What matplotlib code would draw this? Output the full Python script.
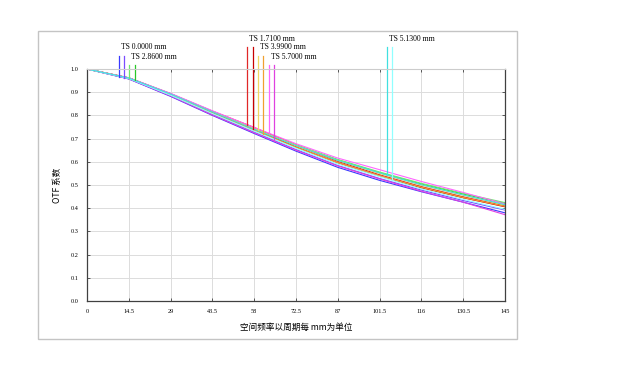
import numpy as np
import matplotlib
matplotlib.use("Agg")
import matplotlib.pyplot as plt
from matplotlib.patches import Rectangle

# spatial frequency, cycles per mm
freqs = [0, 14.5, 29, 43.5, 58, 72.5, 87, 101.5, 116, 130.5, 145]

fields = ["0.0000", "2.8600", "1.7100", "3.9900", "5.7000", "5.1300"]

# tangential / sagittal MTF per field
t_0000 = [1.0, 0.957, 0.882, 0.800, 0.722, 0.646, 0.576, 0.520, 0.471, 0.426, 0.380]
s_0000 = [1.0, 0.958, 0.885, 0.804, 0.728, 0.653, 0.584, 0.528, 0.478, 0.433, 0.392]
t_2860 = [1.0, 0.962, 0.894, 0.818, 0.745, 0.674, 0.610, 0.556, 0.507, 0.464, 0.424]
s_2860 = [1.0, 0.961, 0.893, 0.816, 0.743, 0.672, 0.608, 0.553, 0.504, 0.461, 0.420]
t_1710 = [1.0, 0.962, 0.893, 0.818, 0.748, 0.672, 0.602, 0.544, 0.493, 0.449, 0.410]
s_1710 = [1.0, 0.961, 0.890, 0.812, 0.740, 0.664, 0.596, 0.539, 0.488, 0.445, 0.406]
t_3990 = [1.0, 0.961, 0.892, 0.816, 0.743, 0.672, 0.606, 0.550, 0.500, 0.456, 0.414]
s_3990 = [1.0, 0.960, 0.889, 0.810, 0.736, 0.663, 0.596, 0.540, 0.490, 0.446, 0.408]
t_5700 = [1.0, 0.962, 0.895, 0.820, 0.748, 0.678, 0.616, 0.566, 0.515, 0.468, 0.418]
s_5700 = [1.0, 0.958, 0.884, 0.802, 0.725, 0.650, 0.582, 0.526, 0.473, 0.426, 0.372]
t_5130 = [1.0, 0.961, 0.892, 0.815, 0.740, 0.670, 0.606, 0.552, 0.501, 0.457, 0.415]
s_5130 = [1.0, 0.959, 0.887, 0.808, 0.732, 0.658, 0.590, 0.536, 0.483, 0.438, 0.395]

tan = [t_0000, t_2860, t_1710, t_3990, t_5700, t_5130]
sag = [s_0000, s_2860, s_1710, s_3990, s_5700, s_5130]

# legend marker positions (frequency of the T and S ticks)
mark_t = [11.0, 14.7, 55.6, 59.2, 63.0, 103.9]
mark_s = [12.9, 16.75, 57.5, 61.2, 64.9, 105.8]
mark_top = [1.057, 1.017, 1.096, 1.057, 1.017, 1.096]
label_y = [1.093, 1.052, 1.129, 1.093, 1.052, 1.129]

col_t = ["#3a3aff", "#6ee86e", "#e02828", "#f0d860", "#ff66ff", "#40e0e0"]
col_s = ["#7a4cff", "#28c828", "#c80000", "#f0a030", "#e040e0", "#90ffff"]

xticks = [0, 14.5, 29, 43.5, 58, 72.5, 87, 101.5, 116, 130.5, 145]
xticklabels = ["0", "14.5", "29", "43.5", "58", "72.5", "87", "101.5", "116", "130.5", "145"]
yticks = [0.0, 0.1, 0.2, 0.3, 0.4, 0.5, 0.6, 0.7, 0.8, 0.9, 1.0]

fig = plt.figure(figsize=(6.39, 3.82), dpi=100)
fig.patches.append(Rectangle((38 / 639, 43 / 382), 479 / 639, 308 / 382,
                             transform=fig.transFigure, fill=False,
                             edgecolor="#c4c4c4", linewidth=1.0))
ax = fig.add_axes([87 / 639, 81 / 382, 418 / 639, 232 / 382])

for i in range(len(fields)):
    ax.plot(freqs, sag[i], color=col_s[i], lw=0.8)
    ax.plot(freqs, tan[i], color=col_t[i], lw=0.8)

for i in range(len(fields)):
    yb_t = np.interp(mark_t[i], freqs, tan[i])
    yb_s = np.interp(mark_s[i], freqs, sag[i])
    ax.plot([mark_t[i], mark_t[i]], [yb_t, mark_top[i]], color=col_t[i], lw=0.9, clip_on=False)
    ax.plot([mark_s[i], mark_s[i]], [yb_s, mark_top[i]], color=col_s[i], lw=0.9, clip_on=False)
    ax.text(mark_t[i] + 0.7, label_y[i], "TS " + fields[i] + " mm", fontsize=5.5,
            family="Liberation Serif", va="center", ha="left", clip_on=False)

ax.set_xlim(0, 145)
ax.set_ylim(0, 1.0)
ax.set_xticks(xticks)
ax.set_xticklabels(xticklabels)
ax.set_yticks(yticks)
ax.set_yticklabels(["%.1f" % v for v in yticks])
ax.grid(True, color="#dcdcdc", lw=0.7)
ax.set_axisbelow(True)
ax.tick_params(direction="in", length=2.5, width=0.6, labelsize=4.5,
               top=True, right=True, color="#404040", pad=6)
for lab in ax.get_xticklabels() + ax.get_yticklabels():
    lab.set_family("Liberation Serif")
for side in ["left", "bottom", "right"]:
    ax.spines[side].set_color("#404040")
    ax.spines[side].set_linewidth(0.9)
ax.spines["top"].set_color("#cccccc")

ax.set_xlabel("空间频率以周期每 mm为单位", family=["Noto Sans CJK SC", "DejaVu Sans"],
              fontsize=6.2, labelpad=6)
ax.set_ylabel("OTF 系数", family=["Noto Sans CJK SC", "DejaVu Sans"],
              fontsize=6.2, labelpad=6)

fig.savefig("out.png", dpi=100)
